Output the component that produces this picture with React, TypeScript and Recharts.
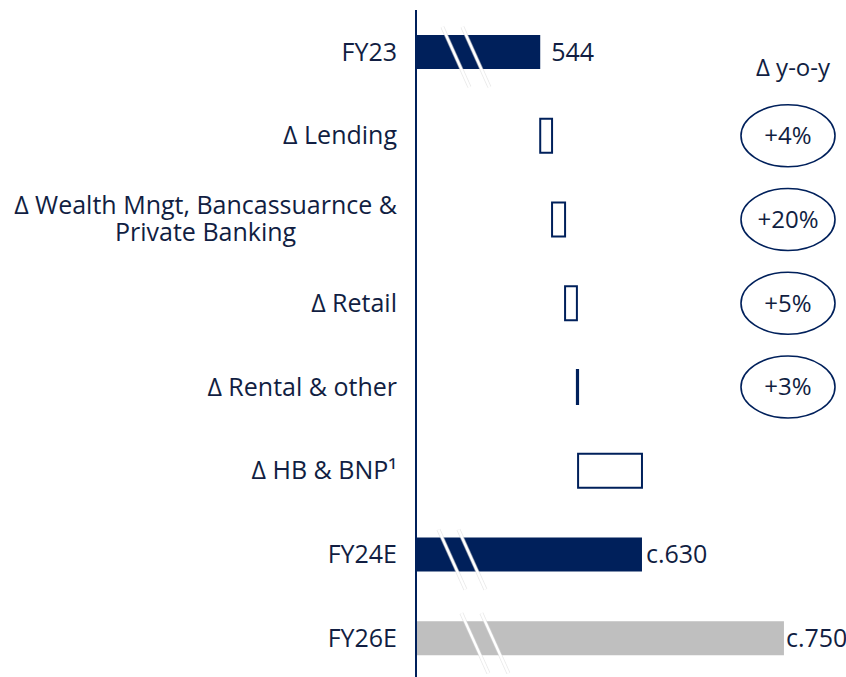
import React from "react";
import { BarChart, Bar, XAxis, YAxis } from "recharts";

// ---------- data ----------
const categories = [
  "FY23",
  "Δ Lending",
  "Δ Wealth Mngt, Bancassuarnce &\nPrivate Banking",
  "Δ Retail",
  "Δ Rental & other",
  "Δ HB & BNP¹",
  "FY24E",
  "FY26E",
];
const barKinds = ["total", "delta", "delta", "delta", "delta", "delta", "total", "forecast"];
const values = [544, 10, 11, 10, 1, 54, 630, 750];
const valueLabels = ["544", "", "", "", "", "", "c.630", "c.750"];
const yoyLabels = ["", "+4%", "+20%", "+5%", "+3%", "", "", ""];
const yoyHeader = "Δ y-o-y";
const AXIS_START = 439; // broken axis start
const AXIS_END = 794;

// ---------- styles ----------
const NAVY = "#00205B";
const GREY = "#BFBFBF";
const TEXT = "#111E42";
const FONT = '"Open Sans", sans-serif';
const FS = 25;
const breakOffsets: Record<number, number> = { 0: 30, 6: 26, 7: 49 };
const labelGaps: Record<number, number> = { 0: 11, 6: 4, 7: 2 };
const ELLIPSE_CX = 788;

let running = 0;
const data = categories.map((c, i) => {
  let start: number;
  let end: number;
  if (barKinds[i] === "delta") {
    start = running;
    end = running + values[i];
    running = end;
  } else {
    start = AXIS_START;
    end = values[i];
    running = values[i];
  }
  return {
    category: c,
    range: [start, end],
    kind: barKinds[i],
    valueLabel: valueLabels[i],
    yoy: yoyLabels[i],
    idx: i,
  };
});

let measureCtx: CanvasRenderingContext2D | null = null;
function textWidth(s: string, size: number) {
  if (!measureCtx && typeof document !== "undefined") {
    measureCtx = document.createElement("canvas").getContext("2d");
  }
  if (!measureCtx) return s.length * size * 0.55;
  measureCtx.font = `${size}px "Open Sans"`;
  return measureCtx.measureText(s).width;
}

const CategoryTick = (props: any) => {
  const { x, y, payload } = props;
  const lines = String(payload.value).split("\n");
  if (lines.length === 1) {
    return (
      <text x={x} y={y} dy="0.35em" textAnchor="end" fontSize={FS} fontFamily={FONT} fill={TEXT}>
        {lines[0]}
      </text>
    );
  }
  const w = Math.max(...lines.map((l) => textWidth(l, FS)));
  const cx = x - w / 2;
  const lh = 27;
  return (
    <text fontSize={FS} fontFamily={FONT} fill={TEXT} textAnchor="middle">
      {lines.map((l, k) => (
        <tspan key={k} x={cx} y={y - 1 + (k - (lines.length - 1) / 2) * lh} dy="0.35em">
          {l}
        </tspan>
      ))}
    </text>
  );
};

const BarShape = (props: any) => {
  const { x, y, width, height, payload } = props;
  const i = payload.idx;
  const kind = payload.kind;
  const els: React.ReactNode[] = [];
  if (kind === "delta") {
    els.push(
      <rect key="r" x={x} y={y} width={Math.max(width, 0.5)} height={height} fill="#fff" stroke={NAVY} strokeWidth={2} />
    );
  } else {
    els.push(<rect key="r" x={x} y={y} width={width} height={height} fill={kind === "forecast" ? GREY : NAVY} />);
    const off = breakOffsets[i] ?? 28;
    [0, 20].forEach((d, k) => {
      const x0 = x + off + d - 0.45 * 8;
      const y0 = y - 8;
      const x1 = x + off + d + 0.45 * (height + 18);
      const y1 = y + height + 18;
      els.push(
        <line key={"s" + k} x1={x0} y1={y0} x2={x1} y2={y1} stroke="#d9d9d9" strokeWidth={4} strokeOpacity={0.6} />
      );
      els.push(<line key={"w" + k} x1={x0} y1={y0} x2={x1} y2={y1} stroke="#fff" strokeWidth={2.5} />);
    });
  }
  if (payload.valueLabel) {
    els.push(
      <text
        key="v"
        x={x + width + (labelGaps[i] ?? 4)}
        y={y + height / 2}
        dy="0.35em"
        fontSize={FS}
        fontFamily={FONT}
        fill={TEXT}
      >
        {payload.valueLabel}
      </text>
    );
  }
  if (payload.yoy) {
    const cy = y + height / 2;
    els.push(<ellipse key="e" cx={ELLIPSE_CX} cy={cy} rx={47} ry={31} fill="none" stroke={NAVY} strokeWidth={1.6} />);
    els.push(
      <text key="y" x={ELLIPSE_CX} y={cy} dy="0.35em" textAnchor="middle" fontSize={FS - 1} fontFamily={FONT} fill={TEXT}>
        {payload.yoy}
      </text>
    );
  }
  return <g>{els}</g>;
};

export default function App() {
  return (
    <div style={{ position: "absolute", left: 0, top: 0, width: 846, height: 677, overflow: "hidden", background: "#fff" }}>
      <BarChart
        width={846}
        height={690}
        data={data}
        layout="vertical"
        margin={{ top: 10, right: 10, bottom: 10, left: 0 }}
      >
        <XAxis type="number" domain={[AXIS_START, AXIS_END]} hide />
        <YAxis
          type="category"
          dataKey="category"
          width={416}
          axisLine={{ stroke: NAVY, strokeWidth: 2 }}
          tickLine={false}
          tickSize={0}
          tickMargin={19}
          interval={0}
          tick={<CategoryTick />}
        />
        <Bar dataKey="range" barSize={34} isAnimationActive={false} shape={BarShape} />
      </BarChart>
      <svg width={846} height={677} style={{ position: "absolute", left: 0, top: 0, pointerEvents: "none" }}>
        <text x={793} y={68} dy="0.35em" textAnchor="middle" fontSize={FS - 1} fontFamily={FONT} fill={TEXT}>
          {yoyHeader}
        </text>
      </svg>
    </div>
  );
}
